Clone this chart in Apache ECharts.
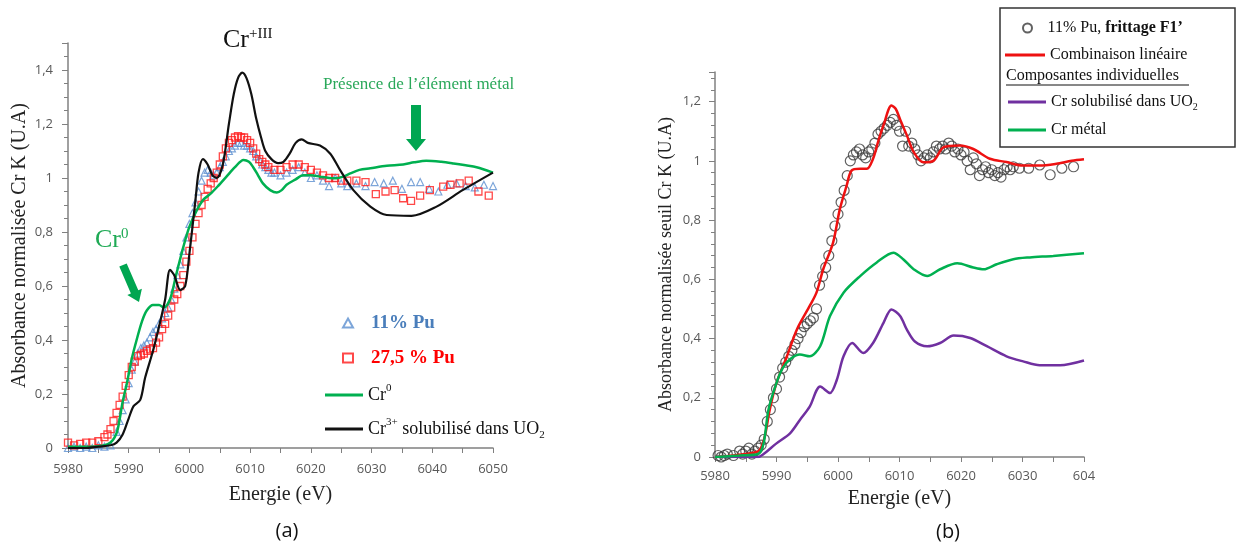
<!DOCTYPE html>
<html><head><meta charset="utf-8">
<script src="https://cdn.jsdelivr.net/npm/echarts@6/dist/echarts.min.js"></script>
<style>html,body{margin:0;padding:0;background:#fff}#c{width:1236px;height:546px}</style>
</head><body><div id="c"></div>
<script>
// ---------- Panel (a) data ----------
const pu11A = [[5980,0.0],[5981,0.005],[5982,0.0],[5983,0.005],[5984,0.0],[5985,0.01],[5986,0.005],[5987,0.01],[5988,0.06],[5988.5,0.1],[5989,0.14],[5989.5,0.18],[5990,0.24],[5990.5,0.29],[5991,0.32],[5991.5,0.35],[5992,0.37],[5992.5,0.38],[5993,0.39],[5993.5,0.41],[5994,0.43],[5994.5,0.44],[5995,0.46],[5995.5,0.48],[5996,0.5],[5996.5,0.52],[5997,0.55],[5997.5,0.59],[5998,0.64],[5998.5,0.68],[5999,0.73],[5999.5,0.78],[6000,0.83],[6000.5,0.87],[6001,0.91],[6001.5,0.95],[6002,0.99],[6002.5,1.02],[6003,1.03],[6003.5,1.02],[6004,1.01],[6004.5,1.02],[6005,1.04],[6005.5,1.06],[6006,1.08],[6006.5,1.1],[6007,1.11],[6007.5,1.12],[6008,1.13],[6008.5,1.13],[6009,1.12],[6009.5,1.12],[6010,1.11],[6010.5,1.1],[6011,1.08],[6011.5,1.07],[6012,1.05],[6012.5,1.04],[6013,1.03],[6013.5,1.02],[6014,1.02],[6015,1.01],[6016,1.02],[6017,1.03],[6018,1.04],[6019,1.02],[6020,1.0],[6021,1.01],[6022,0.99],[6023,0.97],[6024,1.0],[6025,0.98],[6026,0.97],[6027.5,0.98],[6029,0.97],[6030.5,0.985],[6032,0.98],[6033.5,0.99],[6035,0.96],[6036.5,0.985],[6038,0.985],[6039.5,0.96],[6041,0.95],[6042.5,0.975],[6044,0.98],[6045.5,0.97],[6047,0.965],[6048.5,0.975],[6050,0.97]];
const pu275A = [[5980,0.02],[5981,0.01],[5982,0.015],[5983,0.02],[5984,0.02],[5985,0.025],[5986,0.04],[5986.5,0.05],[5987,0.07],[5987.5,0.1],[5988,0.13],[5988.5,0.16],[5989,0.19],[5989.5,0.23],[5990,0.27],[5990.5,0.3],[5991,0.32],[5991.5,0.34],[5992,0.345],[5992.5,0.35],[5993,0.36],[5993.5,0.365],[5994,0.37],[5994.5,0.39],[5995,0.41],[5995.5,0.44],[5996,0.46],[5996.5,0.49],[5997,0.52],[5997.5,0.55],[5998,0.57],[5998.5,0.6],[5999,0.64],[5999.5,0.69],[6000,0.73],[6000.5,0.78],[6001,0.83],[6001.5,0.87],[6002,0.9],[6002.5,0.93],[6003,0.96],[6003.5,0.98],[6004,1.0],[6004.5,1.02],[6005,1.05],[6005.5,1.08],[6006,1.11],[6006.5,1.13],[6007,1.14],[6007.5,1.15],[6008,1.155],[6008.5,1.15],[6009,1.15],[6009.5,1.14],[6010,1.13],[6010.5,1.11],[6011,1.09],[6011.5,1.07],[6012,1.06],[6012.5,1.05],[6013,1.04],[6014,1.03],[6015,1.03],[6016,1.04],[6017,1.05],[6018,1.05],[6019,1.04],[6020,1.03],[6021,1.02],[6022,1.01],[6023,1.0],[6024,1.0],[6025,0.99],[6026,0.99],[6027.5,0.99],[6029,0.985],[6030.7,0.94],[6032.3,0.95],[6033.8,0.955],[6035.2,0.925],[6036.5,0.915],[6038,0.935],[6039.6,0.955],[6041.8,0.968],[6043,0.975],[6044.5,0.98],[6046,0.99],[6047.6,0.95],[6049.3,0.935]];
const cr0A = [[5980,0.005],[5984,0.005],[5986,0.01],[5987,0.02],[5987.7,0.04],[5988.2,0.07],[5989,0.17],[5989.7,0.24],[5990.5,0.33],[5991.3,0.4],[5992.2,0.47],[5993,0.51],[5994,0.53],[5995,0.53],[5995.8,0.52],[5996.8,0.55],[5997.8,0.64],[5999,0.745],[6000,0.82],[6001.2,0.88],[6002.3,0.92],[6003.4,0.94],[6004.7,0.97],[6006.1,1.005],[6007.5,1.04],[6008.9,1.067],[6009.8,1.06],[6010.5,1.04],[6011.3,1.01],[6012.1,0.98],[6013.3,0.955],[6014.4,0.946],[6015.2,0.955],[6016,0.975],[6017.5,0.995],[6018.7,1.01],[6020,1.01],[6021.5,1.005],[6023,1.0],[6024.2,0.999],[6025.3,1.005],[6026.5,1.017],[6028,1.03],[6029.8,1.036],[6032.5,1.045],[6035.2,1.05],[6037,1.058],[6039,1.064],[6041.5,1.06],[6043.5,1.054],[6045.5,1.047],[6047.3,1.04],[6050,1.02]];
const cr3A = [[5980,0.0],[5983,0.0],[5985,0.005],[5987,0.01],[5988,0.02],[5989,0.05],[5990,0.11],[5990.8,0.155],[5991.9,0.178],[5992.7,0.26],[5994,0.36],[5995,0.45],[5996,0.55],[5996.8,0.66],[5997.5,0.64],[5998.5,0.585],[5999.3,0.6],[6000,0.72],[6001,0.92],[6001.5,1.02],[6002.2,1.07],[6003,1.05],[6003.8,1.01],[6004.5,1.0],[6005.5,1.05],[6006.5,1.2],[6007.3,1.31],[6008,1.37],[6008.7,1.39],[6009.4,1.37],[6010.2,1.31],[6011,1.22],[6011.8,1.15],[6012.5,1.1],[6013.5,1.07],[6014.6,1.055],[6015.5,1.06],[6016.5,1.09],[6017.5,1.13],[6018.5,1.143],[6019.5,1.13],[6021.5,1.12],[6023.2,1.09],[6024.8,1.03],[6027,0.955],[6029.8,0.894],[6032.5,0.863],[6036.6,0.86],[6040.7,0.894],[6045,0.955],[6050,1.02]];

// ---------- Panel (b) data ----------
const pu11B = [[5980.5,0.005],[5981,0.0],[5981.5,0.005],[5982,0.01],[5983,0.005],[5984,0.02],[5984.5,0.01],[5985,0.02],[5985.5,0.03],[5986,0.01],[5986.5,0.02],[5987,0.03],[5987.5,0.04],[5988,0.06],[5988.5,0.12],[5989,0.16],[5989.5,0.2],[5990,0.23],[5990.5,0.27],[5991,0.3],[5991.5,0.32],[5992,0.34],[5992.5,0.36],[5993,0.38],[5993.5,0.4],[5994,0.42],[5994.5,0.44],[5995,0.45],[5995.5,0.46],[5996,0.47],[5996.5,0.5],[5997,0.58],[5997.5,0.61],[5998,0.64],[5998.5,0.68],[5999,0.73],[5999.5,0.78],[6000,0.82],[6000.5,0.86],[6001,0.9],[6001.5,0.95],[6002,1.0],[6002.5,1.02],[6003,1.03],[6003.5,1.04],[6004,1.02],[6004.5,1.01],[6005,1.03],[6005.5,1.04],[6006,1.06],[6006.5,1.09],[6007,1.1],[6007.5,1.11],[6008,1.12],[6008.5,1.13],[6009,1.14],[6009.5,1.12],[6010,1.1],[6010.5,1.05],[6011,1.1],[6011.5,1.05],[6012,1.06],[6012.5,1.04],[6013,1.02],[6013.5,1.0],[6014,1.01],[6014.5,1.02],[6015,1.01],[6015.5,1.03],[6016,1.05],[6016.5,1.04],[6017,1.05],[6017.5,1.04],[6018,1.06],[6018.5,1.05],[6019,1.03],[6019.5,1.04],[6020,1.02],[6020.5,1.03],[6021,1.0],[6021.5,0.97],[6022,1.01],[6022.5,0.99],[6023,0.95],[6023.5,0.97],[6024,0.98],[6024.5,0.96],[6025,0.97],[6025.5,0.95],[6026,0.96],[6026.5,0.945],[6027,0.97],[6027.5,0.98],[6028,0.97],[6028.5,0.98],[6029.5,0.975],[6031,0.975],[6032.8,0.986],[6034.5,0.953],[6036.4,0.975],[6038.3,0.98]];
const combB = [[5980,0.0],[5983,0.005],[5985,0.01],[5986.5,0.015],[5987.3,0.024],[5988.1,0.07],[5988.9,0.16],[5990,0.25],[5991.7,0.34],[5993.3,0.43],[5995.4,0.51],[5996.5,0.555],[5997.6,0.634],[5999.2,0.724],[6000.3,0.837],[6001.4,0.916],[6002.2,0.967],[6003.6,0.973],[6004.7,0.973],[6005.7,1.007],[6006.6,1.07],[6007.4,1.12],[6008.7,1.187],[6009.4,1.175],[6010.1,1.14],[6011.2,1.086],[6012.3,1.03],[6013.9,0.995],[6015.5,1.0],[6017.2,1.046],[6019.8,1.052],[6022,1.04],[6024.7,1.007],[6027.4,0.996],[6030.1,0.984],[6032.8,0.984],[6035.5,0.99],[6038,1.0],[6040,1.005]];
const crSolB = [[5980,0.0],[5987,0.0],[5987.9,0.01],[5990,0.046],[5992.2,0.08],[5993.8,0.125],[5995.4,0.17],[5997.1,0.238],[5998.7,0.216],[5999.8,0.26],[6000.9,0.34],[6002.3,0.385],[6004.1,0.351],[6005.7,0.385],[6007.4,0.453],[6008.7,0.498],[6010.1,0.476],[6011.2,0.43],[6012.5,0.39],[6014.5,0.374],[6016.6,0.385],[6018.8,0.41],[6021.5,0.402],[6024.2,0.374],[6027.4,0.34],[6030.1,0.323],[6032.8,0.31],[6036.1,0.31],[6040,0.326]];
const crMetB = [[5980,0.0],[5984,0.005],[5987,0.01],[5987.9,0.046],[5988.7,0.16],[5990,0.25],[5991,0.3],[5992.2,0.33],[5993.8,0.346],[5995.4,0.34],[5997.1,0.374],[5998.7,0.476],[6000.9,0.555],[6003.6,0.611],[6006.3,0.657],[6009,0.69],[6010.6,0.668],[6012.3,0.634],[6014.5,0.611],[6016.6,0.634],[6019.4,0.654],[6022,0.64],[6023.7,0.634],[6025.8,0.651],[6028.5,0.668],[6031.2,0.674],[6035,0.679],[6040,0.688]];

const SERIF = 'Liberation Serif';
const SANS = 'Open Sans';
const GREEN = '#00b050';
const axisGray = '#808080';
const fmtY = v => String(Math.round(v * 10) / 10).replace('.', ',');

function xAxisCfg(gi, min, max, fmt, gap, margin) {
  return {
    type: 'value', gridIndex: gi, min: min, max: max, interval: 10,
    name: 'Energie (eV)', nameLocation: 'middle', nameGap: gap,
    nameTextStyle: {fontFamily: SERIF, fontSize: 20, color: '#222'},
    axisLine: {show: true, lineStyle: {color: axisGray, width: 1.5}},
    axisTick: {show: true, length: 5, lineStyle: {color: axisGray}},
    minorTick: {show: true, splitNumber: 2, length: 5, lineStyle: {color: axisGray}},
    axisLabel: {fontFamily: SANS, fontSize: 13, color: '#595959', margin: margin, formatter: fmt},
    splitLine: {show: false}
  };
}
function yAxisCfg(gi, max, name, nameSize, gap, minorSplit, margin) {
  return {
    type: 'value', gridIndex: gi, min: 0, max: max, interval: 0.2,
    name: name, nameLocation: 'middle', nameGap: gap, nameRotate: 90,
    nameTextStyle: {fontFamily: SERIF, fontSize: nameSize, color: '#222'},
    axisLine: {show: true, lineStyle: {color: axisGray, width: 1.5}},
    axisTick: {show: true, length: 6, lineStyle: {color: axisGray}},
    minorTick: {show: true, splitNumber: minorSplit, length: 4, lineStyle: {color: axisGray}},
    axisLabel: {fontFamily: SANS, fontSize: 13, color: '#595959', margin: margin, formatter: fmtY, showMaxLabel: false},
    splitLine: {show: false}
  };
}

const richSerif = (size, color) => ({
  sup: {fontFamily: SERIF, fontSize: Math.round(size * 0.62), color: color, verticalAlign: 'top', lineHeight: Math.round(size * 0.95)},
  sub: {fontFamily: SERIF, fontSize: Math.round(size * 0.62), color: color, verticalAlign: 'bottom', lineHeight: Math.round(size * 1.05)},
  b: {fontFamily: SERIF, fontSize: size, color: color, fontWeight: 'bold'}
});

const legendText = {
  '11% Pu': '11% Pu',
  '27,5 % Pu': '27,5 % Pu',
  'Cr0': 'Cr{sup|0}',
  'Cr3+ solubilisé dans UO2': 'Cr{sup|3+} solubilisé dans UO{sub|2}',
  '11% Pu, frittage F1’': '11% Pu, {b|frittage F1’}',
  'Combinaison linéaire': 'Combinaison linéaire',
  'Cr solubilisé dans UO2': 'Cr solubilisé dans UO{sub|2}',
  'Cr métal': 'Cr métal'
};
const fmtLegend = n => legendText[n];

const option = {
  animation: false,
  backgroundColor: '#fff',
  grid: [
    {left: 68, top: 43, width: 425, height: 405},
    {left: 715, top: 72, width: 369, height: 385}
  ],
  xAxis: [
    xAxisCfg(0, 5980, 6050, v => String(v), 37, 15),
    xAxisCfg(1, 5980, 6040, v => (v === 6040 ? '604' : String(v)), 32, 13)
  ],
  yAxis: [
    yAxisCfg(0, 1.5, 'Absorbance normalisée Cr K (U.A)', 20, 38, 4, 15),
    yAxisCfg(1, 1.3, 'Absorbance normalisée seuil Cr K (U.A)', 18, 40, 5, 14)
  ],
  legend: [
    {
      orient: 'vertical', left: 342, top: 311, padding: 0, itemWidth: 10, itemHeight: 9, itemGap: 11,
      selectedMode: false, symbolKeepAspect: true,
      data: [
        {name: '11% Pu', textStyle: {color: '#4a7ebb', fontWeight: 'bold', fontSize: 19, fontFamily: SERIF, lineHeight: 24, padding: [0, 0, 0, 13]}},
        {name: '27,5 % Pu', textStyle: {color: '#ff0000', fontWeight: 'bold', fontSize: 19, fontFamily: SERIF, lineHeight: 24, padding: [0, 0, 0, 13]}}
      ],
      formatter: fmtLegend,
      textStyle: {fontFamily: SERIF, fontSize: 19, fontWeight: 'bold', color: '#111', lineHeight: 24, padding: [0, 0, 0, 13]}
    },
    {
      orient: 'vertical', left: 325, top: 383, padding: 0, itemWidth: 38, itemHeight: 3, itemGap: 10, icon: 'rect',
      selectedMode: false,
      data: ['Cr0', 'Cr3+ solubilisé dans UO2'],
      formatter: fmtLegend,
      textStyle: {fontFamily: SERIF, fontSize: 18, color: '#111', lineHeight: 24, rich: richSerif(18, '#111')}
    },
    {
      orient: 'vertical', left: 1022, top: 18, padding: 0, itemWidth: 10, itemHeight: 9, itemGap: 7,
      selectedMode: false, symbolKeepAspect: true,
      data: ['11% Pu, frittage F1’'],
      formatter: fmtLegend,
      textStyle: {fontFamily: SERIF, fontSize: 16, color: '#111', lineHeight: 20, padding: [0, 0, 0, 10], rich: richSerif(16, '#111')}
    },
    {
      orient: 'vertical', left: 1005, top: 45, padding: 0, itemWidth: 40, itemHeight: 3, itemGap: 7, icon: 'rect',
      selectedMode: false,
      data: ['Combinaison linéaire'],
      formatter: fmtLegend,
      textStyle: {fontFamily: SERIF, fontSize: 16, color: '#111', lineHeight: 20, rich: richSerif(16, '#111')}
    },
    {
      orient: 'vertical', left: 1008, top: 92, padding: 0, itemWidth: 38, itemHeight: 3, itemGap: 8, icon: 'rect',
      selectedMode: false,
      data: ['Cr solubilisé dans UO2', 'Cr métal'],
      formatter: fmtLegend,
      textStyle: {fontFamily: SERIF, fontSize: 16, color: '#111', lineHeight: 20, rich: richSerif(16, '#111')}
    }
  ],
  series: [
    {name: '11% Pu', type: 'scatter', xAxisIndex: 0, yAxisIndex: 0, data: pu11A, symbol: 'triangle', symbolSize: 7, symbolKeepAspect: true,
     itemStyle: {color: 'rgba(255,255,255,0)', borderColor: '#5b8fd0', borderWidth: 1.2}, z: 2},
    {name: '27,5 % Pu', type: 'scatter', xAxisIndex: 0, yAxisIndex: 0, data: pu275A, symbol: 'rect', symbolSize: 7, symbolKeepAspect: true,
     itemStyle: {color: 'rgba(255,255,255,0)', borderColor: '#ff1a1a', borderWidth: 1.3}, z: 2},
    {name: 'Cr0', type: 'line', xAxisIndex: 0, yAxisIndex: 0, data: cr0A, symbol: 'none', smooth: 0.3,
     lineStyle: {color: GREEN, width: 2.5}, itemStyle: {color: GREEN}, z: 3},
    {name: 'Cr3+ solubilisé dans UO2', type: 'line', xAxisIndex: 0, yAxisIndex: 0, data: cr3A, symbol: 'none', smooth: 0.3,
     lineStyle: {color: '#111', width: 2.2}, itemStyle: {color: '#111'}, z: 3},

    {name: '11% Pu, frittage F1’', type: 'scatter', xAxisIndex: 1, yAxisIndex: 1, data: pu11B, symbol: 'circle', symbolSize: 10,
     itemStyle: {color: 'rgba(255,255,255,0)', borderColor: '#3a3a3a', borderWidth: 1.2}, z: 2},
    {name: 'Combinaison linéaire', type: 'line', xAxisIndex: 1, yAxisIndex: 1, data: combB, symbol: 'none', smooth: 0.3,
     lineStyle: {color: '#ee1111', width: 2.5}, itemStyle: {color: '#ee1111'}, z: 3},
    {name: 'Cr solubilisé dans UO2', type: 'line', xAxisIndex: 1, yAxisIndex: 1, data: crSolB, symbol: 'none', smooth: 0.3,
     lineStyle: {color: '#7030a0', width: 2.5}, itemStyle: {color: '#7030a0'}, z: 3},
    {name: 'Cr métal', type: 'line', xAxisIndex: 1, yAxisIndex: 1, data: crMetB, symbol: 'none', smooth: 0.3,
     lineStyle: {color: GREEN, width: 2.5}, itemStyle: {color: GREEN}, z: 3}
  ],
  graphic: [
    {type: 'text', x: 223, y: 40, z: 10, style: {text: 'Cr{s|+III}', fontFamily: SERIF, fontSize: 26, fill: '#111', verticalAlign: 'middle',
      rich: {s: {fontFamily: SERIF, fontSize: 15, fill: '#111', verticalAlign: 'top', lineHeight: 24}}}},
    {type: 'text', x: 323, y: 85, z: 10, style: {text: 'Présence de l’élément métal', fontFamily: SERIF, fontSize: 17, fill: '#2aa85a', verticalAlign: 'middle'}},
    {type: 'polygon', z: 10, shape: {points: [[411,105],[421,105],[421,139],[426,139],[416,151],[406,139],[411,139]]}, style: {fill: '#00a651'}},
    {type: 'text', x: 95, y: 240, z: 10, style: {text: 'Cr{s|0}', fontFamily: SERIF, fontSize: 26, fill: '#1faa55', verticalAlign: 'middle',
      rich: {s: {fontFamily: SERIF, fontSize: 15, fill: '#1faa55', verticalAlign: 'top', lineHeight: 24}}}},
    {type: 'polygon', z: 10, shape: {points: [[126.7,263.4],[138.3,290.3],[141.9,288.7],[139,302],[127.3,295.1],[130.9,293.5],[119.3,266.6]]}, style: {fill: '#00a651'}},
    {type: 'text', x: 287, y: 531, z: 10, style: {text: '(a)', fontFamily: SANS, fontSize: 20, fill: '#111', align: 'center', verticalAlign: 'middle'}},
    {type: 'text', x: 948, y: 532, z: 10, style: {text: '(b)', fontFamily: SANS, fontSize: 20, fill: '#111', align: 'center', verticalAlign: 'middle'}},
    {type: 'rect', z: 1, shape: {x: 1000, y: 8, width: 235, height: 139}, style: {fill: '#fff', stroke: '#333', lineWidth: 1.5}},
    {type: 'text', x: 1006, y: 76, z: 10, style: {text: 'Composantes individuelles', fontFamily: SERIF, fontSize: 16, fill: '#111', verticalAlign: 'middle'}},
    {type: 'line', z: 10, shape: {x1: 1006, y1: 85, x2: 1189, y2: 85}, style: {stroke: '#111', lineWidth: 1}}
  ]
};
const chart = echarts.init(document.getElementById('c'), null, {renderer: 'canvas'});
chart.setOption(option);
</script>
</body></html>
